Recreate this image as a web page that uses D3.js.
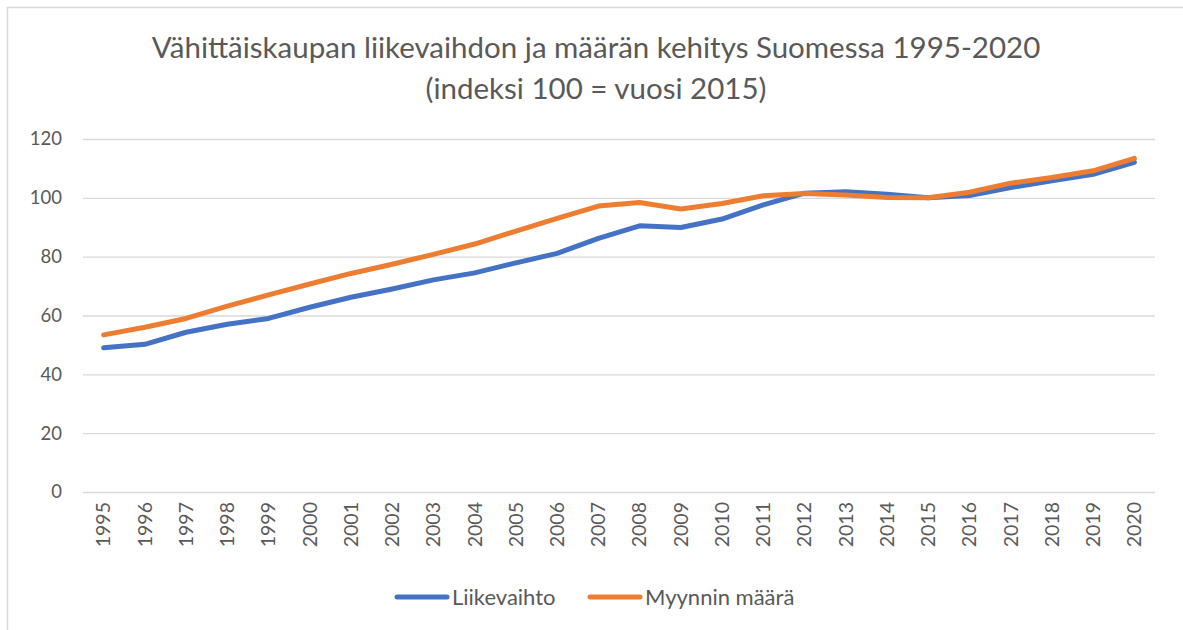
<!DOCTYPE html>
<html>
<head>
<meta charset="utf-8">
<script src="https://cdn.jsdelivr.net/npm/d3@7"></script>
<style>
  body { margin: 0; background: #fff; }
  svg { display: block; font-family: Lato, "Open Sans", sans-serif; }
</style>
</head>
<body>
<svg id="chart" width="1183" height="630"></svg>
<script>
const years = d3.range(1995, 2021).map(String);

const liikevaihto = [49.0, 50.2, 54.3, 57.0, 59.0, 62.8, 66.2, 69.0, 72.1, 74.5,
  77.9, 81.1, 86.2, 90.5, 89.9, 92.8, 97.6, 101.6, 102.1, 101.2,
  100.0, 100.8, 103.5, 105.8, 108.0, 112.1];

const myynninMaara = [53.4, 56.0, 59.0, 63.2, 67.0, 70.7, 74.3, 77.4, 80.8, 84.3,
  88.7, 93.0, 97.2, 98.4, 96.2, 98.1, 100.7, 101.5, 101.0, 100.1,
  100.0, 101.9, 105.0, 106.9, 109.2, 113.4];

const yTicks = [0, 20, 40, 60, 80, 100, 120];

const series = [
  { name: "Liikevaihto", values: liikevaihto, color: "#4472C4" },
  { name: "Myynnin määrä", values: myynninMaara, color: "#ED7D31" }
];

const svg = d3.select("#chart");
const textColor = "#595959";

// chart frame
svg.append("rect")
  .attr("x", 7.5).attr("y", 7.5)
  .attr("width", 1200).attr("height", 640)
  .attr("fill", "none")
  .attr("stroke", "#d9d9d9")
  .attr("stroke-width", 1.5);

// title
const title = svg.append("text")
  .attr("text-anchor", "middle")
  .attr("fill", textColor)
  .attr("font-size", 29.5);
title.append("tspan").attr("x", 596).attr("y", 58)
  .text("Vähittäiskaupan liikevaihdon ja määrän kehitys Suomessa 1995-2020");
title.append("tspan").attr("x", 596).attr("y", 99)
  .text("(indeksi 100 = vuosi 2015)");

const x = d3.scaleBand().domain(years).range([83, 1155]);
const y = d3.scaleLinear().domain([0, 120]).range([492, 139]);

// gridlines + y labels
const yAxis = svg.append("g")
  .attr("transform", "translate(83,0)")
  .call(d3.axisLeft(y).tickValues(yTicks).tickSize(-(1155 - 83)).tickPadding(21));
yAxis.select(".domain").remove();
yAxis.selectAll(".tick line").attr("stroke", "#d9d9d9").attr("stroke-width", 1.3);
yAxis.selectAll(".tick text")
  .attr("fill", textColor)
  .attr("font-size", 18.5)
  .attr("font-family", "Lato, sans-serif");

// x axis labels, rotated
const xAxis = svg.append("g")
  .attr("transform", "translate(0,492)")
  .call(d3.axisBottom(x).tickSize(0));
xAxis.select(".domain").remove();
xAxis.selectAll(".tick text")
  .attr("fill", textColor)
  .attr("font-size", 19.5)
  .attr("font-family", "Lato, sans-serif")
  .attr("text-anchor", "end")
  .attr("dy", "0.35em")
  .attr("transform", "translate(0,10) rotate(-90)")
  .attr("y", 0)
  .attr("x", 0);

// lines
const line = d3.line()
  .x((d, i) => x(years[i]) + x.bandwidth() / 2)
  .y(d => y(d));

svg.append("g").selectAll("path")
  .data(series)
  .join("path")
  .attr("d", d => line(d.values))
  .attr("fill", "none")
  .attr("stroke", d => d.color)
  .attr("stroke-width", 5)
  .attr("stroke-linejoin", "round")
  .attr("stroke-linecap", "round");

// legend
const legendX = [397, 590];
const legend = svg.append("g").selectAll("g")
  .data(series)
  .join("g")
  .attr("transform", (d, i) => `translate(${legendX[i]},597)`);
legend.append("line")
  .attr("x1", 0).attr("x2", 50)
  .attr("stroke", d => d.color)
  .attr("stroke-width", 5)
  .attr("stroke-linecap", "round");
legend.append("text")
  .attr("x", 55)
  .attr("dy", "0.35em")
  .attr("fill", textColor)
  .attr("font-size", 22)
  .text(d => d.name);
</script>
</body>
</html>
